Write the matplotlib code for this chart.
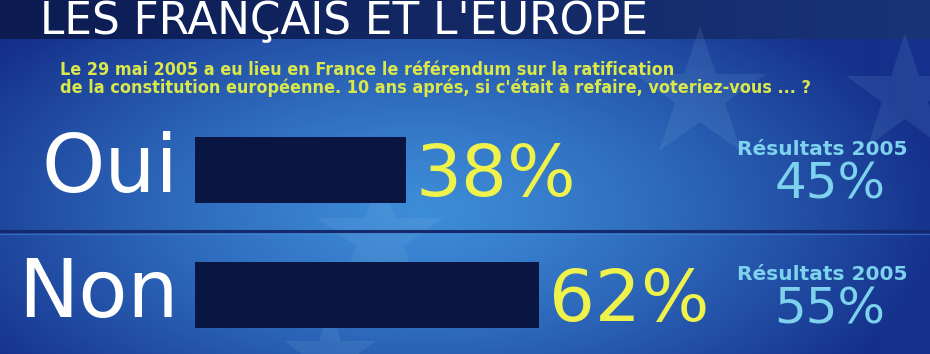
import numpy as np
import matplotlib
matplotlib.use("Agg")
import matplotlib.pyplot as plt
import matplotlib.transforms as mtransforms
from matplotlib.colors import to_rgb

# ---- data ----
title = "LES FRANÇAIS ET L'EUROPE"
subtitle_lines = [
    "Le 29 mai 2005 a eu lieu en France le référendum sur la ratification",
    "de la constitution européenne. 10 ans aprés, si c'était à refaire, voteriez-vous ... ?",
]
categories = ["Oui", "Non"]
values_2015 = [38, 62]
results_2005 = [45, 55]
results_label = "Résultats 2005"

W, H = 930, 354
fig = plt.figure(figsize=(W / 100, H / 100), dpi=100)

# ---- background ----
bg = fig.add_axes([0, 0, 1, 1])
bg.set_xlim(0, W)
bg.set_ylim(H, 0)
bg.axis("off")

yy, xx = np.mgrid[0:H, 0:W]
dark = np.array(to_rgb("#15318c"))
light = np.array(to_rgb("#3d8cd8"))
d = np.sqrt(((xx - 420) / 520.0) ** 2 + ((yy - 210) / 260.0) ** 2)
t = np.clip(d, 0, 1) ** 1.3
img = light[None, None, :] * (1 - t[..., None]) + dark[None, None, :] * t[..., None]
band_l = np.array(to_rgb("#0c1c52"))
band_r = np.array(to_rgb("#1a3478"))
tx = (xx / W)[..., None]
band = band_l * (1 - tx) + band_r * tx
mask = (yy < 39)[..., None]
img = np.where(mask, band, img)
bg.imshow(img, extent=(0, W, H, 0), aspect="auto", zorder=0)

# faint stars (decoration)
for (sx, sy, ss) in [(380, 238, 95), (700, 95, 100), (905, 95, 90), (330, 356, 70)]:
    bg.plot(sx, sy, marker="*", markersize=ss, color="#8fc4ec", alpha=0.12,
            markeredgewidth=0, zorder=1)

# divider line
bg.plot([0, W], [231, 231], color="#14296e", lw=2.2, zorder=2)
bg.plot([0, W], [233.5, 233.5], color="#4a86c8", lw=0.8, alpha=0.6, zorder=2)

# title & subtitle
fig.text(40 / W, 1 - 34 / H, title, color="white", fontsize=31.5,
         family="DejaVu Sans", va="baseline", ha="left")
for i, line in enumerate(subtitle_lines):
    fig.text(60 / W, 1 - (70 + i * 18) / H, line, color="#dbe84a", fontsize=12.9,
             family="DejaVu Sans", fontstretch="condensed", fontweight="bold",
             va="center", ha="left")

# ---- bars ----
ax = fig.add_axes([195 / W, (H - 351.25) / H, 555 / W, 243.75 / H])
ax.set_xlim(0, 100)
ax.set_ylim(1.45, -0.5)
ax.axis("off")
ax.patch.set_alpha(0)
ypos = np.arange(len(categories))
ax.barh(ypos, values_2015, height=0.53, color="#0a1642", zorder=3)

trans = mtransforms.blended_transform_factory(fig.transFigure, ax.transData)
for y, cat, v, r in zip(ypos, categories, values_2015, results_2005):
    ax.text(-3, y, cat, ha="right", va="center", color="white", fontsize=58,
            family="DejaVu Sans")
    ax.text(v + 1.8, y + 0.05, f"{v}%", ha="left", va="center", color="#eef24a",
            fontsize=52, family="DejaVu Sans")
    ax.text(822 / W, y - 0.16, results_label, ha="center", va="center",
            color="#7dd3ee", fontsize=14.5, fontweight="bold", family="DejaVu Sans",
            transform=trans)
    ax.text(830 / W, y + 0.12, f"{r}%", ha="center", va="center",
            color="#7dd3ee", fontsize=36, family="DejaVu Sans", transform=trans)

fig.savefig("out.png", dpi=100)
